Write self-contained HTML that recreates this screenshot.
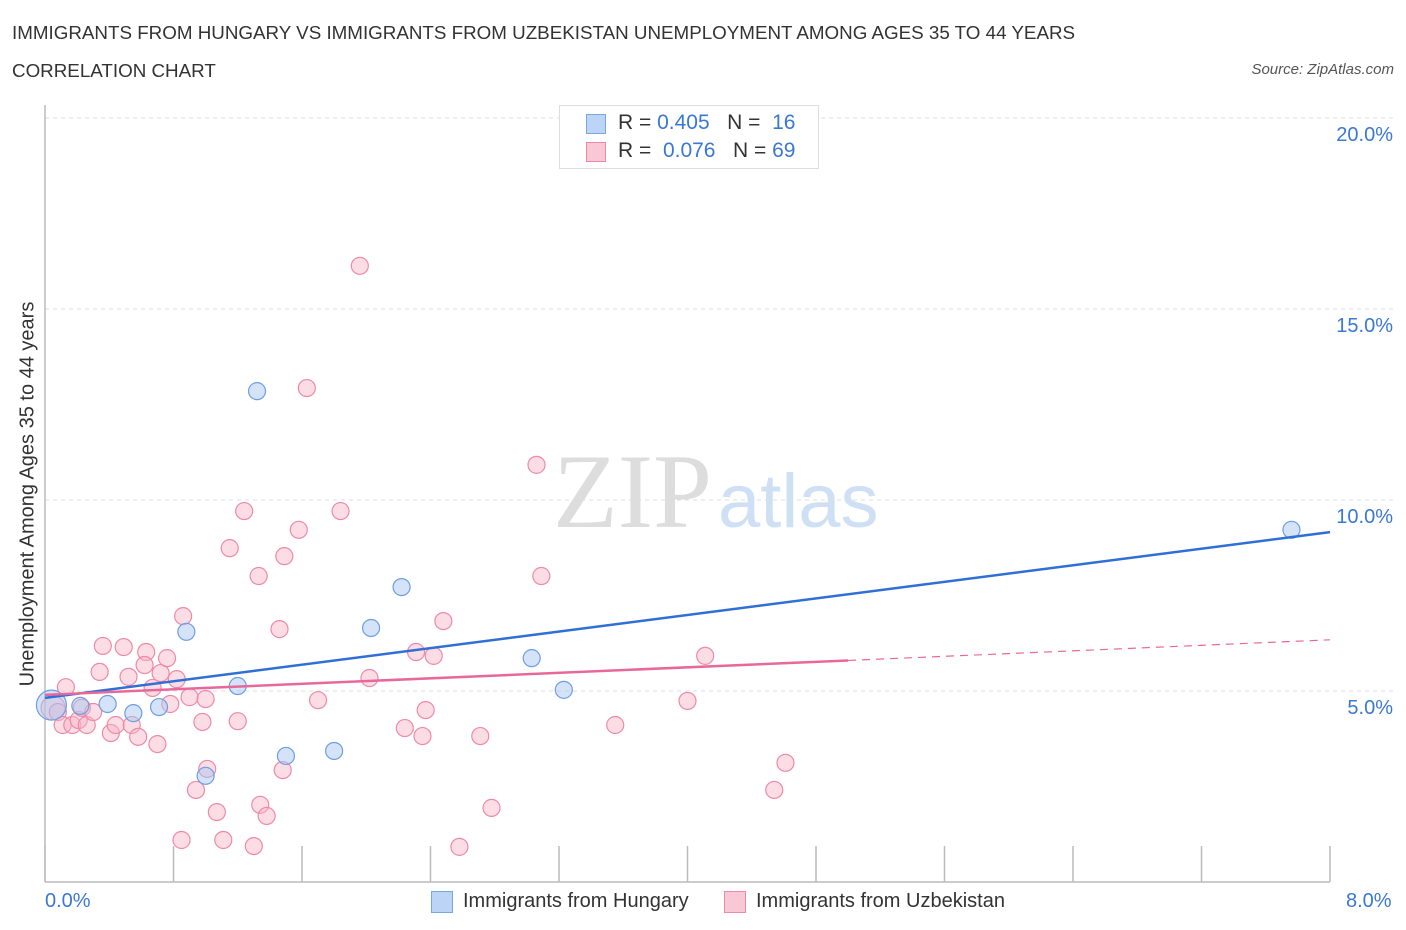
<!DOCTYPE html>
<html><head><meta charset="utf-8">
<style>
body{margin:0;background:#fff;font-family:"Liberation Sans",sans-serif;}
#wrap{position:relative;width:1406px;height:930px;overflow:hidden;}
.t{position:absolute;white-space:nowrap;}
</style></head><body>
<div id="wrap">
<div class="t" style="left:12px;top:22px;font-size:18.8px;color:#333;">IMMIGRANTS FROM HUNGARY VS IMMIGRANTS FROM UZBEKISTAN UNEMPLOYMENT AMONG AGES 35 TO 44 YEARS</div>
<div class="t" style="left:12px;top:60px;font-size:18.8px;color:#333;">CORRELATION CHART</div>
<div class="t" style="right:12px;top:61px;font-size:15px;color:#555;font-style:italic;">Source: ZipAtlas.com</div>
<svg id="svg" width="1406" height="930" style="position:absolute;left:0;top:0"></svg>
</div>
<script>
const xTickVals=[0,0.8,1.6,2.4,3.2,4,4.8,5.6,6.4,7.2,8];
const yTickVals=[5,10,15,20];
const yTickLabels=["5.0%","10.0%","15.0%","20.0%"];
const hungaryX=[0.04,0.22,0.39,0.55,0.71,0.88,1.00,1.20,1.32,1.50,1.80,2.03,2.22,3.03,3.23,7.76];
const hungaryY=[4.63,4.61,4.66,4.42,4.58,6.55,2.78,5.13,12.85,3.30,3.43,6.65,7.72,5.86,5.03,9.22];
const uzbekX=[0.05,0.13,0.08,0.11,0.17,0.21,0.26,0.23,0.30,0.34,0.36,0.41,0.44,0.49,0.52,0.54,0.58,0.63,0.62,0.67,0.70,0.72,0.76,0.78,0.82,0.85,0.86,0.90,0.94,0.98,1.00,1.01,1.07,1.11,1.15,1.20,1.24,1.30,1.33,1.34,1.38,1.46,1.48,1.49,1.58,1.63,1.70,1.84,1.96,2.02,2.24,2.31,2.35,2.37,2.42,2.48,2.58,2.71,2.78,3.06,3.09,3.55,4.00,4.11,4.54,4.61];
const uzbekY=[4.56,5.10,4.45,4.11,4.11,4.24,4.11,4.56,4.45,5.50,6.18,3.90,4.11,6.15,5.37,4.11,3.80,6.02,5.68,5.08,3.61,5.47,5.86,4.66,5.31,1.10,6.96,4.84,2.41,4.19,4.79,2.96,1.83,1.10,8.74,4.21,9.71,0.94,8.01,2.02,1.73,6.62,2.93,8.53,9.22,12.93,4.76,9.71,16.13,5.34,4.03,6.02,3.82,4.50,5.92,6.83,0.92,3.82,1.94,10.92,8.01,4.11,4.74,5.92,2.41,3.12];
const hungaryTrend=[4.82,9.16];
const uzbekTrend=[4.90,6.34];
const uzbekSolidEnd=5.0;

const NS="http://www.w3.org/2000/svg";
const svg=document.getElementById('svg');
const X0=45,X1=1330,Y0=882,Ytop=118;
const sx=v=>X0+(v/8)*(X1-X0);
const sy=v=>Y0-(v/20)*(Y0-Ytop);
function mk(tag,attrs,parent){const e=document.createElementNS(NS,tag);for(const k in attrs)e.setAttribute(k,attrs[k]);(parent||svg).appendChild(e);return e;}

yTickVals.forEach((v,i)=>{
 const g=mk('line',{x1:X0,x2:1395,y1:sy(v),y2:sy(v),stroke:'#ddd','stroke-dasharray':'4,4'});
 
 
 const t=mk('text',{x:1393,y:sy(v)+23,'text-anchor':'end','font-size':20,fill:'#3a78d4','font-family':'Liberation Sans'});
 t.textContent=yTickLabels[i];
 
 
});
const wm=mk('text',{x:553,y:527,'font-size':106,fill:'#ddd','font-family':'Liberation Serif'});wm.textContent='ZIP';


const wm2=mk('text',{x:718,y:527,'font-size':76,fill:'#cfe0f4','font-family':'Liberation Sans'});wm2.textContent='atlas';


const ax=mk('line',{x1:X0,x2:X0,y1:105,y2:Y0,stroke:'#bbb','stroke-width':1.5});


const bx=mk('line',{x1:X0,x2:X1,y1:Y0,y2:Y0,stroke:'#bbb','stroke-width':1.5});


xTickVals.forEach(v=>{const t=mk('line',{x1:sx(v),x2:sx(v),y1:846,y2:Y0,stroke:'#bbb','stroke-width':1.5});
 
 });
uzbekX.forEach((v,i)=>{const c=mk('circle',{cx:sx(v),cy:sy(uzbekY[i]),r:i==0?12:8.5,fill:'rgba(248,180,200,0.45)',stroke:'#ee8aa8','stroke-width':1.2});
 
 });
hungaryX.forEach((v,i)=>{const c=mk('circle',{cx:sx(v),cy:sy(hungaryY[i]),r:i==0?15:8.5,fill:'rgba(170,200,240,0.5)',stroke:'#6e9fe0','stroke-width':1.2});
 
 });
const tb=mk('line',{x1:sx(0),y1:sy(hungaryTrend[0]),x2:sx(8),y2:sy(hungaryTrend[1]),stroke:'#2f6fd6','stroke-width':2.5});


const uAt=x=>uzbekTrend[0]+(uzbekTrend[1]-uzbekTrend[0])*x/8;
const tp=mk('line',{x1:sx(0),y1:sy(uAt(0)),x2:sx(uzbekSolidEnd),y2:sy(uAt(uzbekSolidEnd)),stroke:'#e8689a','stroke-width':2.5});


const td=mk('line',{x1:sx(uzbekSolidEnd),y1:sy(uAt(uzbekSolidEnd)),x2:sx(8),y2:sy(uAt(8)),stroke:'#e8689a','stroke-width':1.2,'stroke-dasharray':'8,6'});


</script>
<div class="t" style="left:45px;top:890px;font-size:20px;color:#3a78d4;">0.0%</div>
<div class="t" style="left:1346px;top:890px;font-size:20px;color:#3a78d4;">8.0%</div>
<div class="t" style="left:28px;top:494px;font-size:20px;color:#333;transform:translate(-50%,-50%) rotate(-90deg);">Unemployment Among Ages 35 to 44 years</div>
<div style="position:absolute;left:559px;top:105px;width:258px;height:62px;border:1px solid #ddd;background:#fff;font-size:21px;color:#333;">
 <div style="position:absolute;left:26px;top:8px;width:18px;height:18px;background:#bcd4f6;border:1px solid #7aa7e2;"></div>
 <div class="t" style="left:58px;top:5px;">R = <span style="color:#3a78d4">0.405</span>&nbsp;&nbsp;&nbsp;N = &nbsp;<span style="color:#3a78d4">16</span></div>
 <div style="position:absolute;left:26px;top:36px;width:18px;height:18px;background:#f9c8d6;border:1px solid #ee8aa8;"></div>
 <div class="t" style="left:58px;top:33px;">R = &nbsp;<span style="color:#3a78d4">0.076</span>&nbsp;&nbsp;&nbsp;N = <span style="color:#3a78d4">69</span></div>
</div>
<div style="position:absolute;left:431px;top:891px;width:20px;height:20px;background:#bcd4f6;border:1px solid #7aa7e2;"></div>
<div class="t" style="left:463px;top:890px;font-size:20px;color:#333;">Immigrants from Hungary</div>
<div style="position:absolute;left:724px;top:891px;width:20px;height:20px;background:#f9c8d6;border:1px solid #ee8aa8;"></div>
<div class="t" style="left:756px;top:890px;font-size:20px;color:#333;">Immigrants from Uzbekistan</div>
</body></html>
